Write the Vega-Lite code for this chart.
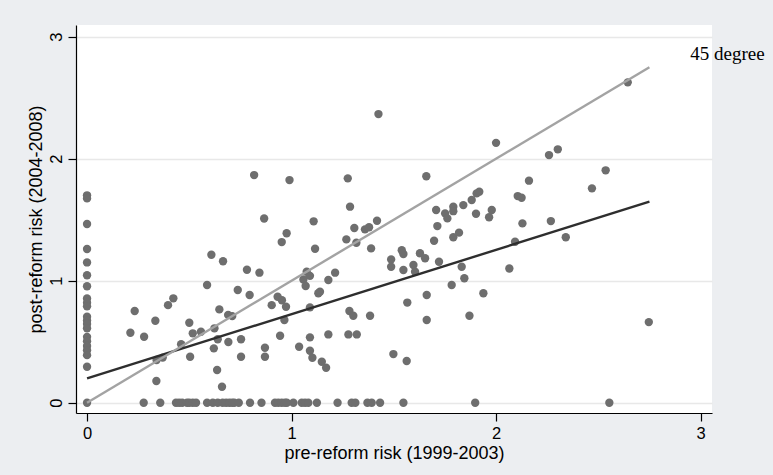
{
  "$schema": "https://vega.github.io/schema/vega-lite/v6.json",
  "width": 636,
  "height": 388,
  "autosize": {"type": "none"},
  "padding": {"left": 76, "top": 25, "right": 61, "bottom": 62},
  "background": "#eceef1",
  "config": {
    "view": {"fill": "white", "stroke": null},
    "font": "Liberation Sans",
    "axis": {
      "domainColor": "#000000",
      "domainWidth": 1.2,
      "tickColor": "#000000",
      "tickWidth": 1.2,
      "tickSize": 8,
      "labelFontSize": 16.5,
      "labelColor": "#000000",
      "labelPadding": 4,
      "titleFontSize": 18,
      "titleFontWeight": "normal",
      "titleColor": "#000000",
      "labelFont": "Liberation Sans",
      "titleFont": "Liberation Sans"
    }
  },
  "datasets": {
    "pts": [
      {"x":0,"y":1.70},{"x":0,"y":1.675},{"x":0,"y":1.465},{"x":0,"y":1.26},{"x":0,"y":1.15},{"x":0,"y":1.045},{"x":0,"y":0.955},{"x":0,"y":0.855},{"x":0,"y":0.82},{"x":0,"y":0.79},{"x":0,"y":0.705},{"x":0,"y":0.675},{"x":0,"y":0.645},{"x":0,"y":0.61},{"x":0,"y":0.54},{"x":0,"y":0.505},{"x":0,"y":0.465},{"x":0,"y":0.43},{"x":0,"y":0.39},{"x":0,"y":0.295},{"x":0,"y":0},
      {"x":0.277,"y":0},{"x":0.358,"y":0},{"x":0.435,"y":0},{"x":0.45,"y":0},{"x":0.465,"y":0},{"x":0.489,"y":0},{"x":0.5,"y":0},{"x":0.517,"y":0},{"x":0.533,"y":0},{"x":0.587,"y":0},{"x":0.615,"y":0},{"x":0.639,"y":0},{"x":0.663,"y":0},{"x":0.68,"y":0},{"x":0.696,"y":0},{"x":0.71,"y":0},{"x":0.72,"y":0},{"x":0.742,"y":0},{"x":0.797,"y":0},{"x":0.853,"y":0},{"x":0.919,"y":0},{"x":0.935,"y":0},{"x":0.952,"y":0},{"x":0.968,"y":0},{"x":0.977,"y":0},{"x":1.009,"y":0},{"x":1.05,"y":0},{"x":1.066,"y":0},{"x":1.082,"y":0},{"x":1.124,"y":0},{"x":1.225,"y":0},{"x":1.294,"y":0},{"x":1.312,"y":0},{"x":1.371,"y":0},{"x":1.392,"y":0},{"x":1.433,"y":0},{"x":1.547,"y":0},{"x":1.898,"y":0},{"x":2.554,"y":0},
      {"x":0.212,"y":0.574},{"x":0.233,"y":0.752},{"x":0.279,"y":0.541},{"x":0.334,"y":0.672},{"x":0.339,"y":0.178},{"x":0.34,"y":0.35},{"x":0.37,"y":0.37},{"x":0.396,"y":0.80},{"x":0.422,"y":0.856},{"x":0.46,"y":0.479},{"x":0.50,"y":0.656},{"x":0.504,"y":0.377},{"x":0.517,"y":0.569},{"x":0.557,"y":0.582},{"x":0.587,"y":0.965},{"x":0.608,"y":1.213},{"x":0.62,"y":0.446},{"x":0.623,"y":0.61},{"x":0.636,"y":0.268},{"x":0.639,"y":0.52},{"x":0.647,"y":0.765},{"x":0.66,"y":0.131},{"x":0.665,"y":1.16},{"x":0.691,"y":0.498},{"x":0.69,"y":0.72},{"x":0.71,"y":0.71},{"x":0.737,"y":0.924},{"x":0.753,"y":0.52},{"x":0.753,"y":0.377},{"x":0.782,"y":1.09},{"x":0.795,"y":0.883},{"x":0.817,"y":1.866},{"x":0.843,"y":1.066},{"x":0.866,"y":1.51},{"x":0.87,"y":0.451},{"x":0.87,"y":0.377},{"x":0.903,"y":0.80},{"x":0.932,"y":0.869},{"x":0.944,"y":0.549},{"x":0.952,"y":1.317},{"x":0.953,"y":0.84},{"x":0.965,"y":0.678},{"x":0.973,"y":0.787},{"x":0.976,"y":1.389},{"x":0.99,"y":1.825},
      {"x":1.037,"y":0.459},{"x":1.058,"y":1.01},{"x":1.069,"y":0.957},{"x":1.074,"y":1.074},{"x":1.09,"y":1.04},{"x":1.09,"y":0.782},{"x":1.09,"y":0.536},{"x":1.09,"y":0.426},{"x":1.102,"y":0.369},{"x":1.108,"y":1.487},{"x":1.115,"y":1.262},{"x":1.131,"y":0.897},{"x":1.139,"y":0.91},{"x":1.148,"y":0.336},{"x":1.169,"y":0.287},{"x":1.18,"y":1.006},{"x":1.18,"y":0.56},{"x":1.213,"y":1.066},{"x":1.268,"y":1.339},{"x":1.275,"y":1.839},{"x":1.278,"y":0.56},{"x":1.283,"y":0.752},{"x":1.286,"y":1.607},{"x":1.302,"y":0.713},{"x":1.307,"y":1.432},{"x":1.317,"y":1.311},{"x":1.319,"y":0.56},{"x":1.359,"y":1.421},{"x":1.379,"y":1.438},{"x":1.384,"y":0.713},{"x":1.389,"y":1.265},{"x":1.418,"y":1.492},{"x":1.425,"y":2.366},{"x":1.487,"y":1.175},{"x":1.487,"y":1.115},{"x":1.498,"y":0.399},{"x":1.539,"y":1.25},{"x":1.547,"y":1.219},{"x":1.547,"y":1.088},{"x":1.563,"y":0.342},{"x":1.566,"y":0.821},{"x":1.596,"y":1.129},{"x":1.604,"y":1.074},{"x":1.628,"y":1.225},{"x":1.653,"y":1.184},{"x":1.659,"y":1.856},{"x":1.661,"y":0.883},{"x":1.661,"y":0.678},{"x":1.697,"y":1.328},{"x":1.707,"y":1.58},{"x":1.713,"y":1.448},{"x":1.721,"y":1.156},{"x":1.751,"y":1.552},{"x":1.762,"y":1.511},{"x":1.783,"y":0.965},{"x":1.791,"y":1.607},{"x":1.791,"y":1.57},{"x":1.791,"y":1.356},{"x":1.819,"y":1.394},{"x":1.832,"y":1.115},{"x":1.84,"y":1.62},{"x":1.845,"y":1.02},{"x":1.87,"y":0.713},{"x":1.881,"y":1.662},{"x":1.902,"y":1.549},{"x":1.905,"y":1.716},{"x":1.918,"y":1.73},{"x":1.938,"y":0.897},{"x":1.966,"y":1.52},{"x":1.979,"y":1.58},
      {"x":2.0,"y":2.13},{"x":2.065,"y":1.10},{"x":2.093,"y":1.32},{"x":2.106,"y":1.694},{"x":2.125,"y":1.68},{"x":2.129,"y":1.47},{"x":2.161,"y":1.82},{"x":2.259,"y":2.03},{"x":2.268,"y":1.489},{"x":2.302,"y":2.077},{"x":2.341,"y":1.356},{"x":2.469,"y":1.757},{"x":2.536,"y":1.905},{"x":2.644,"y":2.626},{"x":2.747,"y":0.661}
    ],
    "lines": [
      {"series":"fit","x":0,"y":0.2},
      {"series":"fit","x":2.75,"y":1.648},
      {"series":"45","x":0,"y":0},
      {"series":"45","x":2.75,"y":2.75}
    ],
    "labels": [
      {"x":2.95,"y":2.86,"label":"45 degree"}
    ]
  },
  "layer": [
    {
      "data": {"name": "pts"},
      "mark": {"type": "circle", "size": 70, "color": "#6e6e6e", "opacity": 1},
      "encoding": {
        "x": {
          "field": "x", "type": "quantitative",
          "scale": {"domain": [-0.054, 3.056], "nice": false, "zero": false},
          "axis": {"values": [0, 1, 2, 3], "grid": false, "title": "pre-reform risk (1999-2003)", "titlePadding": 3, "format": "d"}
        },
        "y": {
          "field": "y", "type": "quantitative",
          "scale": {"domain": [-0.084, 3.096], "nice": false, "zero": false},
          "axis": {"values": [0, 1, 2, 3], "grid": true, "gridColor": "#e8e8e8", "gridWidth": 1.5, "labelAngle": -90, "labelAlign": "center", "labelBaseline": "bottom", "title": "post-reform risk (2004-2008)", "titlePadding": 3, "format": "d"}
        }
      }
    },
    {
      "data": {"name": "lines"},
      "mark": {"type": "line", "strokeWidth": 2.4},
      "encoding": {
        "x": {"field": "x", "type": "quantitative"},
        "y": {"field": "y", "type": "quantitative"},
        "color": {"field": "series", "type": "nominal", "scale": {"domain": ["45", "fit"], "range": ["#a3a3a3", "#2e2e2e"]}, "legend": null}
      }
    },
    {
      "data": {"name": "labels"},
      "mark": {"type": "text", "font": "Liberation Serif", "fontSize": 19, "align": "left", "baseline": "middle", "color": "#000000"},
      "encoding": {
        "x": {"field": "x", "type": "quantitative"},
        "y": {"field": "y", "type": "quantitative"},
        "text": {"field": "label"}
      }
    }
  ]
}
